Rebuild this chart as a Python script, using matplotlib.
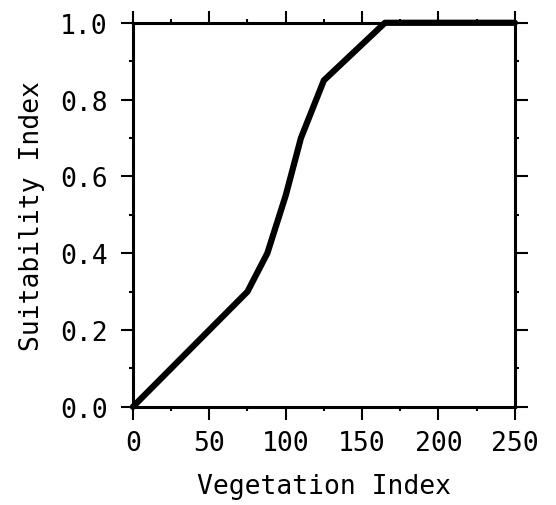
import matplotlib
matplotlib.use('Agg')
import matplotlib.pyplot as plt
import numpy as np

# curve
veg_index = [0, 75, 88, 100, 110, 125, 165, 250]
suit_index = [0.0, 0.30, 0.40, 0.55, 0.70, 0.85, 1.0, 1.0]

xticks = [0, 50, 100, 150, 200, 250]
yticks = [0.0, 0.2, 0.4, 0.6, 0.8, 1.0]

plt.rcParams['font.family'] = 'DejaVu Sans Mono'

fig = plt.figure(figsize=(5.56, 5.06), dpi=100)
ax = fig.add_axes([0.239, 0.194, 0.687, 0.759])

ax.plot(veg_index, suit_index, color='black', linewidth=4.5,
        solid_joinstyle='round', solid_capstyle='round', clip_on=False)

ax.set_xlim(0, 250)
ax.set_ylim(0, 1.0)
ax.set_xticks(xticks)
ax.set_yticks(yticks)
ax.set_yticklabels(['%.1f' % v for v in yticks])
ax.set_xticks(np.arange(25, 250, 50), minor=True)
ax.set_yticks(np.arange(0.1, 1.0, 0.2), minor=True)

for s in ax.spines.values():
    s.set_linewidth(2.2)

ax.tick_params(axis='both', which='major', direction='out', length=9, width=1.5,
               labelsize=19, top=True, right=True)
ax.tick_params(axis='x', which='major', pad=8)
ax.tick_params(axis='y', which='major', pad=9)
ax.tick_params(axis='both', which='minor', direction='out', length=3, width=1.5,
               top=True, right=True)

ax.set_xlabel('Vegetation Index', fontsize=19, labelpad=12)
ax.set_ylabel('Suitability Index', fontsize=19, labelpad=11)

fig.savefig('out.png', dpi=100)
